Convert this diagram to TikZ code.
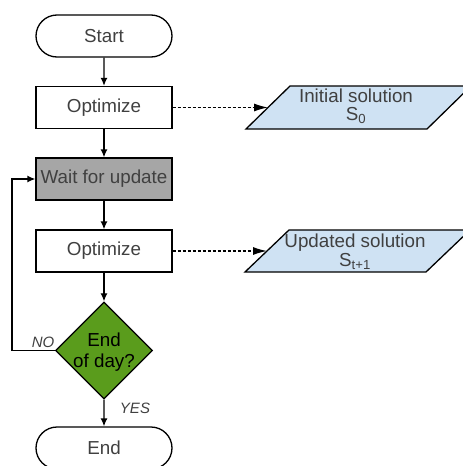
\documentclass[tikz,border=0pt]{standalone}
\usepackage{fontspec}
\setmainfont{Liberation Sans}
\usetikzlibrary{shapes.geometric,shapes.misc,arrows.meta}
\definecolor{txtgray}{HTML}{404040}
\definecolor{waitgray}{HTML}{A6A6A6}
\definecolor{daygreen}{HTML}{5A9C1C}
\definecolor{ioblue}{HTML}{CFE2F3}
\tikzset{
  every node/.style={font=\fontsize{18.8}{18}\selectfont, text=txtgray},
  term/.style={rounded rectangle, draw, line width=1.3pt, minimum width=136pt, minimum height=42pt, inner sep=0pt},
  proc/.style={rectangle, draw, line width=1.3pt, minimum width=136pt, minimum height=42pt, inner sep=0pt},
  io/.style={draw, line width=1.3pt, fill=ioblue},
  iotext/.style={align=center, inner sep=0pt},
  decision/.style={diamond, draw, line width=1.3pt, fill=daygreen, minimum width=97pt, minimum height=97pt, inner sep=0pt, shape aspect=1},
  flow/.style={line width=1.3pt, -{Latex[length=8pt,width=7pt]}},
  dataflow/.style={line width=1.2pt, dash pattern=on 3pt off 2pt, -{Latex[length=14pt,width=8pt]}},
  lbl/.style={font=\fontsize{15}{15}\selectfont\itshape, inner sep=0pt}
}
\begin{document}
\begin{tikzpicture}[x=1pt,y=-1pt]
\useasboundingbox (0,0) rectangle (463,466);
\node[term] (start) at (104,36) {Start};
\node[proc] (opt1) at (104,107.5) {Optimize};
\node[proc, fill=waitgray] (wait) at (104,179) {Wait for update};
\node[proc] (opt2) at (104,251) {Optimize};
\node[decision] (day) at (104,350.5) {};
\node[align=center, text=black, inner sep=0pt, font=\fontsize{18.8}{21}\selectfont] (daytxt) at (104,352) {End\\of day?};
\node[term] (end) at (104,448) {End};
% input/output parallelograms
\draw[io] (246,129) -- (427,129) -- (471,86) -- (290,86) -- cycle;
\coordinate (p1in) at (268,107.5);
\node[iotext, font=\fontsize{18.8}{17.5}\selectfont] (p1t) at (356,106.5) {Initial solution\\S\textsubscript{0}};
\draw[io] (245,272) -- (426,272) -- (470,230) -- (289,230) -- cycle;
\coordinate (p2in) at (267,251);
\node[iotext, font=\fontsize{18.8}{19}\selectfont] (p2t) at (355,252) {Updated solution\\S\textsubscript{t+1}};
\coordinate (loop) at (12,350.5);
\node[lbl] (no) at (43,342) {NO};
\node[lbl] (yes) at (135,408) {YES};
\draw[flow] (start) -- (opt1);
\draw[flow] (opt1) -- (wait);
\draw[flow] (wait) -- (opt2);
\draw[flow] (opt2) -- (day);
\draw[flow] (day) -- (end);
\draw[flow] (day.west) -- (loop) |- (wait.west);
\draw[dataflow] (opt1.east) -- (opt1.east -| p1in);
\draw[dataflow] (opt2.east) -- (opt2.east -| p2in);
\end{tikzpicture}
\end{document}
